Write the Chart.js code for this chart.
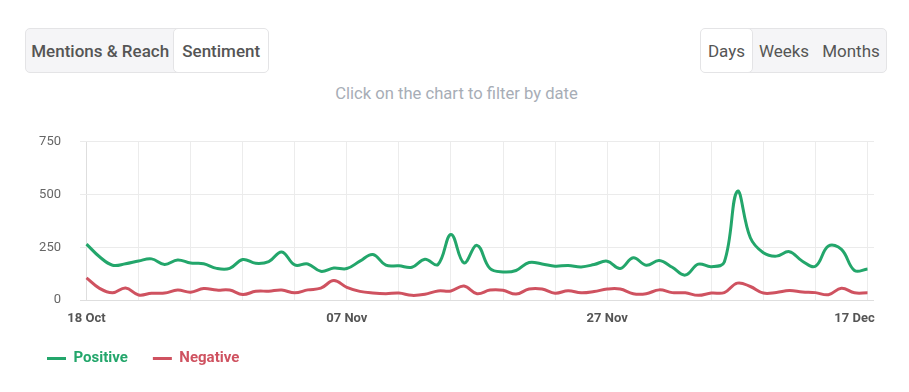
<!DOCTYPE html>
<html>
<head>
<meta charset="utf-8">
<script src="https://cdn.jsdelivr.net/npm/chart.js@4.4.1/dist/chart.umd.min.js"></script>
<style>
  html, body { margin: 0; padding: 0; background: #fff; width: 909px; height: 392px; overflow: hidden; font-family: Roboto, "Noto Sans", sans-serif; }
  .group { position: absolute; top: 28px; height: 45px; display: flex; border: 1px solid #e4e4e6; border-radius: 5px; background: #f5f5f7; box-sizing: border-box; overflow: hidden; }
  .group div { display: flex; align-items: center; justify-content: center; font-size: 17px; color: #555; box-sizing: border-box; }
  .group .active { background: #fff; border: 1px solid #e4e4e6; border-radius: 5px; margin: -1px; }
  #left { left: 25px; width: 244px; }
  #left div { font-weight: 500; }
  #right { left: 700px; width: 187px; }
  #sub { position: absolute; top: 84px; left: 0; width: 913px; text-align: center; font-size: 16.6px; color: #a7adb6; }
  #wrap { position: absolute; left: 0; top: 115px; width: 909px; height: 277px; }
</style>
</head>
<body>
<div class="group" id="left"><div style="width:149px">Mentions &amp; Reach</div><div class="active" style="width:96px">Sentiment</div></div>
<div class="group" id="right"><div class="active" style="width:53px">Days</div><div style="width:64px">Weeks</div><div style="width:70px">Months</div></div>
<div id="sub">Click on the chart to filter by date</div>
<div id="wrap"><canvas id="c"></canvas></div>
<script>
const categories = [
  '18 Oct','19 Oct','20 Oct','21 Oct','22 Oct','23 Oct','24 Oct','25 Oct','26 Oct','27 Oct','28 Oct','29 Oct','30 Oct','31 Oct',
  '01 Nov','02 Nov','03 Nov','04 Nov','05 Nov','06 Nov','07 Nov','08 Nov','09 Nov','10 Nov','11 Nov','12 Nov','13 Nov','14 Nov','15 Nov',
  '16 Nov','17 Nov','18 Nov','19 Nov','20 Nov','21 Nov','22 Nov','23 Nov','24 Nov','25 Nov','26 Nov','27 Nov','28 Nov','29 Nov','30 Nov',
  '01 Dec','02 Dec','03 Dec','04 Dec','05 Dec','06 Dec','07 Dec','08 Dec','09 Dec','10 Dec','11 Dec','12 Dec','13 Dec','14 Dec','15 Dec','16 Dec','17 Dec'
];
const positive = [
  265,205,165,172,185,195,168,190,175,172,150,150,192,174,182,228,166,171,136,152,
  149,184,216,165,162,155,193,168,311,176,259,149,133,140,178,171,160,164,157,168,
  184,149,200,165,187,155,118,170,158,180,515,295,224,208,229,184,160,256,240,140,147
];
const negative = [
  105,55,34,57,24,32,33,47,37,54,47,47,26,41,42,47,34,48,56,92,
  60,41,33,30,33,22,27,43,43,66,30,47,46,28,52,52,32,44,34,40,
  52,52,30,30,48,35,34,22,33,35,80,64,33,36,45,38,35,25,56,34,34
];
const yTicks = [0, 250, 500, 750];
const seriesNames = ['Positive', 'Negative'];
const seriesColors = ['#23a66b', '#cf5260'];

new Chart(document.getElementById('c'), {
  type: 'line',
  data: {
    labels: categories,
    datasets: [
      { label: seriesNames[0], data: positive, borderColor: seriesColors[0], backgroundColor: seriesColors[0], borderWidth: 3, tension: 0.4, pointRadius: 0, fill: false },
      { label: seriesNames[1], data: negative, borderColor: seriesColors[1], backgroundColor: seriesColors[1], borderWidth: 3, tension: 0.4, pointRadius: 0, fill: false }
    ]
  },
  options: {
    responsive: true,
    maintainAspectRatio: false,
    animation: false,
    events: [],
    layout: { padding: { left: 22, right: 35, top: 6, bottom: 16 } },
    plugins: {
      tooltip: { enabled: false },
      legend: {
        position: 'bottom',
        align: 'start',
        labels: {
          usePointStyle: true,
          pointStyle: 'line',
          pointStyleWidth: 19,
          padding: 25,
          font: { family: 'Roboto', size: 15, weight: 'bold' },
          generateLabels(chart) {
            return chart.data.datasets.map((ds, i) => ({
              text: ds.label,
              fillStyle: ds.borderColor,
              strokeStyle: ds.borderColor,
              fontColor: ds.borderColor,
              lineWidth: 3,
              pointStyle: 'line',
              hidden: false,
              datasetIndex: i
            }));
          }
        }
      }
    },
    scales: {
      x: {
        offset: true,
        border: { display: false },
        grid: {
          drawTicks: false,
          color: ctx => ctx.index === 0 ? '#dedede' : '#ececec'
        },
        afterFit(scale) { scale.height = 26; scale.paddingLeft = 0; scale.paddingRight = 0; },
        ticks: {
          autoSkip: false,
          maxRotation: 0,
          padding: 11,
          color: '#555',
          font: { family: 'Roboto', size: 13, weight: 'bold' },
          callback(value, index) {
            if (index % 20 === 0) {
              return index === categories.length - 1 ? categories[index] + '        ' : categories[index];
            }
            if (index % 4 === 0) return '';
            return null;
          }
        }
      },
      y: {
        min: yTicks[0],
        max: yTicks[yTicks.length - 1],
        border: { display: false },
        afterFit(scale) { scale.width = 58; },
        grid: {
          drawTicks: false,
          color: ctx => ctx.tick && ctx.tick.value === 0 ? '#dedede' : '#ebebeb'
        },
        ticks: {
          stepSize: 250,
          padding: 19,
          color: '#666',
          font: { family: 'Roboto', size: 13 }
        }
      }
    }
  }
});
</script>
</body>
</html>
